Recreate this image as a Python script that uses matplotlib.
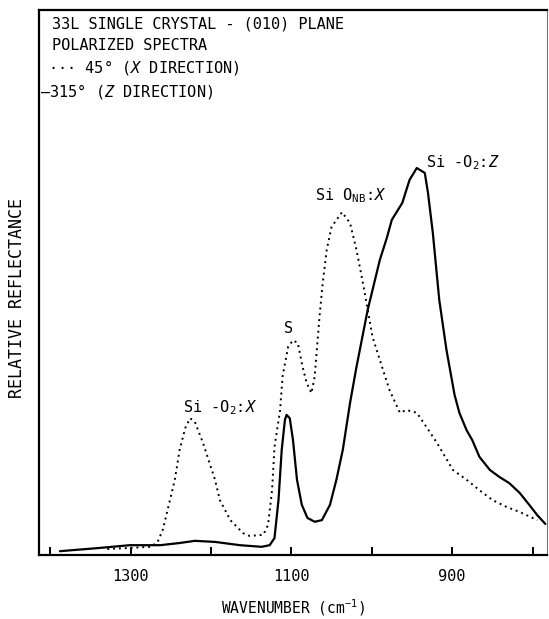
import numpy as np
import matplotlib
matplotlib.use("Agg")
import matplotlib.pyplot as plt

# ------------------------------------------------------------------
# data (wavenumber in cm^-1, relative reflectance)
# ------------------------------------------------------------------
wn_z = [1388, 1338, 1301, 1263, 1239, 1220, 1195, 1164, 1137, 1127,
        1121, 1116, 1112, 1108, 1106, 1102, 1098, 1093, 1087, 1080,
        1071, 1062, 1052, 1044, 1036, 1027, 1019, 1005, 990, 981,
        975, 962, 953, 944, 934, 930, 924, 916, 907, 897,
        891, 882, 875, 866, 853, 841, 829, 816, 804, 794, 784]
refl_z = [0.7, 1.3, 1.8, 1.8, 2.2, 2.6, 2.4, 1.8, 1.5, 1.8,
          3.1, 10.1, 19.3, 24.8, 25.7, 25.1, 21.1, 13.8, 9.2, 6.8,
          6.1, 6.4, 9.2, 13.8, 19.3, 27.9, 34.5, 45.0, 54.1, 58.3,
          61.5, 64.6, 68.8, 71.0, 70.1, 66.4, 59.1, 46.8, 37.6, 29.4,
          26.1, 22.9, 21.1, 18.0, 15.6, 14.3, 13.2, 11.4, 9.2, 7.3, 5.7]

wn_x = [1329, 1301, 1276, 1267, 1260, 1251, 1245, 1239, 1232, 1226,
        1220, 1210, 1201, 1195, 1189, 1176, 1160, 1152, 1135, 1129,
        1124, 1121, 1114, 1111, 1104, 1098, 1092, 1086, 1081, 1075,
        1071, 1065, 1061, 1056, 1050, 1037, 1027, 1019, 1011, 1005,
        999, 990, 978, 965, 957, 944, 932, 919, 899, 882,
        866, 850, 832, 816, 794]
refl_x = [1.1, 1.3, 1.5, 2.2, 4.6, 10.1, 13.8, 19.3, 23.3, 25.1,
          24.4, 20.6, 16.5, 13.8, 10.1, 6.4, 4.0, 3.5, 3.7, 5.5,
          11.9, 19.8, 26.6, 32.7, 38.2, 39.4, 38.9, 34.5, 31.6, 29.7,
          32.7, 43.7, 49.9, 56.0, 60.2, 62.9, 60.9, 56.0, 49.9, 45.0,
          40.0, 35.8, 30.3, 26.1, 26.6, 26.1, 23.5, 20.6, 15.6, 13.8,
          11.9, 10.1, 8.8, 7.9, 6.4]

tick_values = [1400, 1300, 1200, 1100, 1000, 900, 800]
tick_labels = ["", "1300", "", "1100", "", "900", ""]

header_lines = ["33L SINGLE CRYSTAL - (010) PLANE",
                "POLARIZED SPECTRA",
                "\u00b7\u00b7\u00b7 45\u00b0 ($X$ DIRECTION)",
                "\u2014315\u00b0 ($Z$ DIRECTION)"]

peak_labels = [(1235, 26.2, "Si -O$_2$:$X$", "left"),
               (1104, 40.7, "S", "center"),
               (1071, 65.1, "Si O$_{\\mathrm{NB}}$:$X$", "left"),
               (932, 71.2, "Si -O$_2$:$Z$", "left")]

# ------------------------------------------------------------------
# figure (typewriter-like lettering -> mono font everywhere)
# ------------------------------------------------------------------
plt.rcParams["font.family"] = ["DejaVu Sans Mono"]
plt.rcParams["mathtext.fontset"] = "custom"
plt.rcParams["mathtext.rm"] = "DejaVu Sans Mono"
plt.rcParams["mathtext.it"] = "DejaVu Sans Mono:italic"
plt.rcParams["mathtext.bf"] = "DejaVu Sans Mono:bold"

fig = plt.figure(figsize=(5.49, 6.19), dpi=100)
ax = fig.add_axes([0.0710, 0.1034, 0.9253, 0.8805])

ax.plot(wn_x, refl_x, color="black", lw=1.4, linestyle=(0, (1, 2)))
ax.plot(wn_z, refl_z, color="black", lw=1.6, solid_capstyle="round")

ax.set_xlim(1414, 782)
ax.set_ylim(0, 100)

ax.set_xticks(tick_values)
ax.set_xticklabels(tick_labels)
ax.set_yticks([])
ax.tick_params(axis="x", direction="in", length=6, width=1.4, pad=10,
               labelsize=11)

for side in ["left", "top", "bottom"]:
    ax.spines[side].set_linewidth(1.6)
ax.spines["right"].set_linewidth(0.8)
ax.spines["right"].set_color("#777777")

ys = [0.974, 0.934, 0.894, 0.851]
xs = [0.0256, 0.0256, 0.018, 0.002]
for x, y, s in zip(xs, ys, header_lines):
    ax.text(x, y, s, transform=ax.transAxes, ha="left", va="center",
            fontsize=11)

for x, y, s, ha in peak_labels:
    ax.text(x, y, s, ha=ha, va="baseline", fontsize=11)

fig.text(0.534, 1 - 608 / 619, "WAVENUMBER (cm$^{-1}$)", ha="center",
         va="center", fontsize=10.5)
fig.text(17 / 549, 1 - 298 / 619, "RELATIVE REFLECTANCE", ha="center",
         va="center", rotation=90, fontsize=12)

fig.savefig("out.png", dpi=100)
